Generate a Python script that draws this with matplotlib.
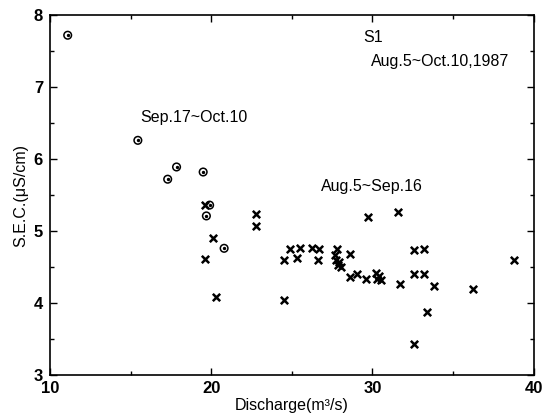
import matplotlib
matplotlib.use("Agg")
import matplotlib.pyplot as plt
from matplotlib.ticker import MultipleLocator

plt.rcParams['font.family'] = ['Liberation Sans', 'DejaVu Sans']

# Sep.17~Oct.10 (circles)
circ_x = [11.1, 15.45, 17.3, 17.85, 19.5, 19.9, 19.7, 20.8]
circ_y = [7.72, 6.26, 5.72, 5.89, 5.82, 5.36, 5.21, 4.76]

# Aug.5~Sep.16 (crosses)
cross_x = [19.6, 19.6, 20.1, 20.3, 22.8, 22.75, 24.5, 24.5, 24.9, 25.3,
           25.5, 26.25, 26.7, 26.65, 27.8, 27.7, 27.75, 27.9, 27.85, 28.05,
           28.6, 28.6, 29.05, 29.6, 29.75, 30.2, 30.25, 30.4, 30.55, 31.6,
           31.7, 32.6, 33.2, 32.6, 33.2, 33.8, 33.4, 32.6, 36.25, 38.8]
cross_y = [5.36, 4.61, 4.91, 4.09, 5.24, 5.07, 4.6, 4.04, 4.75, 4.63,
           4.77, 4.76, 4.75, 4.6, 4.75, 4.67, 4.6, 4.57, 4.53, 4.5,
           4.68, 4.36, 4.41, 4.33, 5.2, 4.42, 4.34, 4.37, 4.32, 5.27,
           4.27, 4.74, 4.75, 4.41, 4.41, 4.23, 3.87, 3.43, 4.19, 4.6]

x_ticks = [10, 20, 30, 40]
y_ticks = [3, 4, 5, 6, 7, 8]

fig = plt.figure(figsize=(5.43, 4.19), dpi=100)
ax = fig.add_axes([0.092, 0.105, 0.891, 0.859])

ax.scatter(cross_x, cross_y, marker='x', s=28, c='black', linewidths=1.8, zorder=3)
ax.scatter(circ_x, circ_y, marker='o', s=30, facecolors='none', edgecolors='black',
           linewidths=1.1, zorder=3)
ax.scatter(circ_x, circ_y, marker='o', s=2, c='black', zorder=4)

ax.set_xlim(10, 40)
ax.set_ylim(3, 8)
ax.set_xticks(x_ticks)
ax.set_yticks(y_ticks)
ax.xaxis.set_minor_locator(MultipleLocator(5))
ax.yaxis.set_minor_locator(MultipleLocator(0.5))
ax.tick_params(which='both', direction='in', top=True, right=True, labelsize=12)
ax.tick_params(axis='y', pad=5)
ax.tick_params(axis='x', pad=4)
ax.tick_params(which='major', length=5, width=1)
ax.tick_params(which='minor', length=3, width=1)
for lab in ax.get_xticklabels() + ax.get_yticklabels():
    lab.set_fontweight('bold')
for s in ax.spines.values():
    s.set_linewidth(1.2)

ax.set_xlabel('Discharge(m³/s)', fontsize=11.5, labelpad=2)
ax.set_ylabel('S.E.C.(μS/cm)', fontsize=11.5, labelpad=4)

ax.text(29.4, 7.69, 'S1', fontsize=11.5, va='center', ha='left')
ax.text(29.9, 7.35, 'Aug.5~Oct.10,1987', fontsize=11.5, va='center', ha='left')
ax.text(15.6, 6.58, 'Sep.17~Oct.10', fontsize=11.5, va='center', ha='left')
ax.text(26.8, 5.62, 'Aug.5~Sep.16', fontsize=11.5, va='center', ha='left')

fig.savefig('out.png', dpi=100)
